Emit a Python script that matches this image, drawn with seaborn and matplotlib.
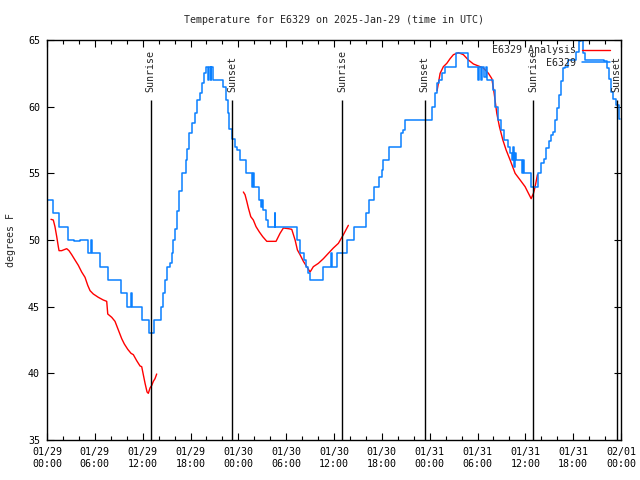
import matplotlib
matplotlib.use("Agg")
import matplotlib.pyplot as plt
import matplotlib.dates as mdates
from matplotlib.ticker import MultipleLocator
from matplotlib.lines import Line2D
import seaborn as sns
import pandas as pd

# hours after 2025-01-29 00:00 UTC
obs_hours = [0.13, 0.75, 1.51, 2.63, 3.39, 4.14, 5.11, 5.52, 5.62, 6.65, 7.62, 9.28, 10.00,
             10.48, 10.60, 11.88, 12.84, 13.43, 14.27, 14.49, 14.74, 14.99, 15.43, 15.62,
             15.85, 16.06, 16.27, 16.60, 16.90, 17.38, 17.53, 17.85, 18.16, 18.57, 18.86,
             19.20, 19.41, 19.74, 19.95, 20.20, 20.33, 20.51, 20.58, 20.79, 22.08, 22.40,
             22.65, 22.87, 23.17, 23.59, 23.88, 24.22, 24.97, 25.68, 25.85, 25.97, 26.64,
             26.79, 26.91, 27.14, 27.48, 27.77, 28.54, 28.64, 31.33, 31.74, 32.25, 32.50,
             32.79, 33.00, 34.67, 35.57, 35.70, 36.39, 37.58, 38.52, 40.03, 40.40, 41.03,
             41.66, 42.00, 42.20, 42.91, 44.35, 44.60, 44.86, 48.31, 48.62, 48.87, 49.18,
             49.50, 49.87, 51.25, 52.82, 54.02, 54.14, 54.45, 54.58, 54.83, 55.08, 55.21,
             55.90, 56.21, 56.52, 56.90, 57.34, 57.78, 58.09, 58.34, 58.47, 58.59, 58.72,
             58.85, 59.54, 59.66, 59.79, 60.66, 61.61, 61.98, 62.30, 62.61, 62.92, 63.24,
             63.49, 63.68, 63.99, 64.24, 64.53, 64.74, 64.99, 65.31, 66.37, 66.75, 67.00,
             67.25, 67.50, 69.89, 70.20, 70.45, 70.77, 71.02, 71.39, 71.71, 71.89]
obs_temp = [53, 52, 51, 50, 49.9, 50, 49, 50, 49, 48, 47, 46, 45,
            46, 45, 44, 43, 44, 45, 46, 47, 48, 48.3, 49,
            50, 50.8, 52.2, 53.7, 55, 56, 56.8, 58, 58.8, 59.5, 60.5,
            61, 61.8, 62.5, 63, 62, 63, 62, 63, 62, 61.5, 60.5,
            59.5, 58.3, 57.6, 57, 56.75, 56, 55, 54, 55, 54, 53,
            52.5, 53, 52.25, 51.5, 51, 52, 51, 50, 49, 48.5, 48,
            47.5, 47, 48, 49, 48, 49, 50, 51, 52, 53, 54,
            54.75, 55.25, 56, 57, 58, 58.25, 59, 60, 61, 61.75, 62,
            62.5, 63, 64, 63, 62, 63, 62, 63, 62.2, 63, 62,
            61.25, 60, 59, 58.25, 57.5, 57, 56.5, 56, 57, 55.5, 56.5,
            56, 55, 56, 55, 54, 55, 55.8, 56.1, 56.9, 57.4, 57.9,
            58.1, 59, 59.9, 60.9, 61.9, 62.9, 63, 63.5, 64.1, 64.9, 66,
            64, 63.5, 63.4, 62.9, 62.1, 61.1, 60.6, 60.1, 59.1, 59.1]

ana_hours = [0.50, 0.79, 1.00, 1.22, 1.42, 1.51, 1.84, 2.47, 2.76, 3.10, 3.51, 3.93, 4.35,
             4.77, 5.11, 5.40, 5.81, 6.44, 7.06, 7.49, 7.62, 8.12, 8.53, 8.95, 9.37, 9.70,
             10.13, 10.54, 10.83, 11.25, 11.67, 11.88, 12.08, 12.30, 12.55, 12.71, 12.92,
             13.14, 13.34, 13.55, 13.76,
             24.63, 24.84, 25.06, 25.26, 25.56, 25.88, 26.22, 26.64, 27.06, 27.57, 28.73,
             29.23, 29.65, 30.28, 30.70, 31.12, 31.41, 31.74, 32.16, 32.58, 33.00, 33.41,
             34.04, 34.67, 35.29, 35.92, 36.55, 37.18, 37.80,
             48.93, 49.31, 49.72, 50.15, 50.56, 50.98, 51.61, 52.23, 52.86, 53.49, 54.12,
             54.74, 55.37, 55.80, 56.09, 56.42, 56.75, 57.18, 57.59, 58.09, 58.72, 59.35,
             59.97, 60.39, 60.73, 61.02, 61.23, 61.52]
ana_temp = [51.55, 51.5, 51.0, 50.25, 49.5, 49.2, 49.2, 49.35, 49.2, 48.9, 48.5, 48.1, 47.6,
            47.2, 46.6, 46.2, 45.95, 45.7, 45.5, 45.4, 44.45, 44.2, 43.9, 43.25, 42.6, 42.2,
            41.8, 41.5, 41.4, 40.95, 40.55, 40.5, 39.9, 39.25, 38.6, 38.5, 38.9,
            39.1, 39.4, 39.6, 39.95,
            53.6, 53.4, 52.9, 52.4, 51.75, 51.5, 51.0, 50.6, 50.25, 49.9, 49.9,
            50.5, 50.9, 50.85, 50.8, 50.0, 49.25, 48.9, 48.4, 48.0, 47.6, 48.0,
            48.25, 48.6, 49.0, 49.4, 49.75, 50.4, 51.1,
            61.2, 62.5, 63.0, 63.25, 63.6, 63.9, 64.05, 63.9, 63.5, 63.2, 63.05,
            62.9, 62.5, 62.1, 61.0, 59.5, 58.5, 57.5, 56.75, 56.0, 55.0, 54.5,
            54.0, 53.5, 53.1, 53.5, 54.0, 54.9]
ana_segment = [1] * 41 + [2] * 29 + [3] * 28

sunrise_hours = [13.0, 37.05, 61.02]
sunset_hours = [23.25, 47.39, 71.48]

RED = "#ff0000"
BLUE = "#0a80ff"

start = pd.Timestamp("2025-01-29 00:00")
end = pd.Timestamp("2025-02-01 00:00")

obs = pd.DataFrame({"time": start + pd.to_timedelta(obs_hours, unit="h"), "temp": obs_temp})
ana = pd.DataFrame({"time": start + pd.to_timedelta(ana_hours, unit="h"),
                    "temp": ana_temp, "seg": ana_segment})

sns.set_theme(style="ticks")
plt.rcParams["font.family"] = ["DejaVu Sans Mono"]
plt.rcParams["font.size"] = 7.2

fig = plt.figure(figsize=(6.4, 4.8), dpi=100)
ax = fig.add_axes([47 / 640, 40 / 480, 574 / 640, 400 / 480])

# analysis has gaps, so draw each segment as its own unit
sns.lineplot(data=ana, x="time", y="temp", units="seg", estimator=None,
             color=RED, lw=1.0, ax=ax, legend=False)
sns.lineplot(data=obs, x="time", y="temp", drawstyle="steps-post",
             color=BLUE, lw=1.1, ax=ax, legend=False)

for h in sunrise_hours + sunset_hours:
    t = start + pd.Timedelta(hours=h)
    name = "Sunrise" if h in sunrise_hours else "Sunset"
    ax.vlines(t, 35, 60.5, color="black", lw=1.0)
    ax.text(t, 61.1, name, rotation=90, ha="center", va="bottom", fontsize=7.2)

ax.set_xlim(start, end)
ax.set_ylim(35, 65)
ax.yaxis.set_major_locator(MultipleLocator(5))
ax.xaxis.set_major_locator(mdates.HourLocator(byhour=[0, 6, 12, 18]))
ax.xaxis.set_minor_locator(mdates.HourLocator(interval=2))
ax.xaxis.set_major_formatter(mdates.DateFormatter("%m/%d\n%H:%M"))

ax.tick_params(which="both", direction="in", top=True, right=True, colors="black",
               labelsize=7.2, width=0.8)
ax.tick_params(which="major", length=5, pad=5)
ax.tick_params(which="minor", length=3)
for s in ax.spines.values():
    s.set_color("black")
    s.set_linewidth(1.0)

ax.set_title("Temperature for E6329 on 2025-Jan-29 (time in UTC)", fontsize=7.2, pad=12)
ax.set_xlabel("")
ax.set_ylabel("degrees F", fontsize=7.2, labelpad=9)

handles = [Line2D([], [], color=RED, lw=1.0), Line2D([], [], color=BLUE, lw=1.1)]
ax.legend(handles, ["E6329 Analysis", "E6329"], loc="upper right",
          bbox_to_anchor=(0.99, 1.0), frameon=False, markerfirst=False,
          handlelength=2.8, handletextpad=0.6, labelspacing=0.25, borderpad=0.55,
          fontsize=7.2, borderaxespad=0)

fig.savefig("out.png", dpi=100)
